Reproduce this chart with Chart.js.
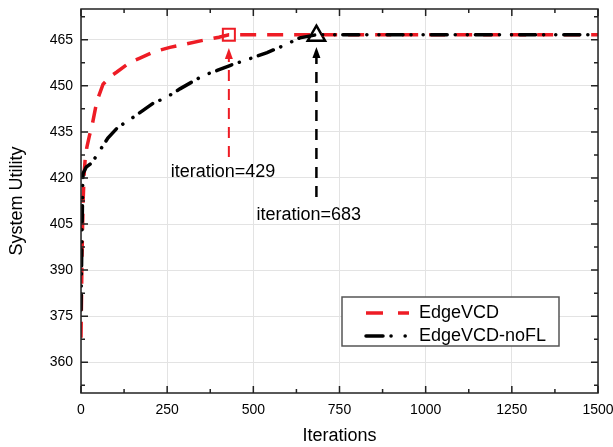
<!DOCTYPE html>
<html>
<head>
<meta charset="utf-8">
<script src="https://cdn.jsdelivr.net/npm/chart.js@4"></script>
<style>
  html, body { margin: 0; padding: 0; background: #fff; }
  canvas { display: block; }
</style>
</head>
<body>
<canvas id="chart" width="613" height="447"></canvas>
<script>
// data
const redIters  = [0, 3, 6, 9, 12, 17, 25, 32, 46, 64, 85, 104, 140, 171, 210, 258, 300, 354, 400, 429, 1500];
const redValues = [368, 395, 412, 421, 426, 430, 434, 437, 445, 450.5, 453, 454.5, 457.5, 459, 461, 462.5, 463.5, 464.8, 465.8, 466.6, 466.6];

const blackIters  = [0, 2, 4, 5, 6, 15, 32, 55, 78, 107, 142, 209, 249, 287, 354, 395, 432, 499, 540, 586, 635, 683, 1500];
const blackValues = [377, 395, 410, 418, 421.5, 423.5, 425, 429, 433, 436.5, 439, 444.3, 446.3, 449, 453.3, 455, 456.6, 459.2, 460.8, 463, 465.6, 466.6, 466.6];

const seriesNames = ['EdgeVCD', 'EdgeVCD-noFL'];
const yTicks = [360, 375, 390, 405, 420, 435, 450, 465];
const xTicks = [0, 250, 500, 750, 1000, 1250, 1500];

// converged points marked on the curves
const redMark = { x: 429, y: 466.6 };
const blackMark = { x: 683, y: 466.3 };

// annotations: arrow tail / tip and label position, in data units
const notes = [
    { text: 'iteration=429', color: '#ee1c25', width: 2, x: 429, from: 426.8, to: 462.3, labelX: 412, labelY: 421.9 },
    { text: 'iteration=683', color: '#000000', width: 2.5, x: 683, from: 413.8, to: 462.6, labelX: 661, labelY: 407.9 }
];

const RED = '#ee1c25';
const FONT = "'Liberation Sans', Arial, sans-serif";

function fitScale(s, key, size) {
    s[key] = size;
    s.paddingLeft = 0; s.paddingRight = 0; s.paddingTop = 0; s.paddingBottom = 0;
}

const extrasPlugin = {
    id: 'extras',
    afterDraw(chart) {
        const ctx = chart.ctx;
        const a = chart.chartArea;
        const xs = chart.scales.x, ys = chart.scales.y;

        // frame
        ctx.save();
        ctx.strokeStyle = '#222';
        ctx.lineWidth = 1.5;
        ctx.setLineDash([]);
        ctx.strokeRect(a.left, a.top, a.right - a.left, a.bottom - a.top);

        // inward ticks, major + minor, on all four sides
        ctx.beginPath();
        for (let v = 0; v <= 1500; v += 125) {
            const px = xs.getPixelForValue(v);
            const len = (v % 250 === 0) ? 7 : 4;
            ctx.moveTo(px, a.bottom); ctx.lineTo(px, a.bottom - len);
            ctx.moveTo(px, a.top); ctx.lineTo(px, a.top + len);
        }
        for (let v = 352.5; v <= 475; v += 7.5) {
            const py = ys.getPixelForValue(v);
            const len = ((v - 360) % 15 === 0) ? 7 : 4;
            ctx.moveTo(a.left, py); ctx.lineTo(a.left + len, py);
            ctx.moveTo(a.right, py); ctx.lineTo(a.right - len, py);
        }
        ctx.stroke();

        // dashed arrows and labels
        notes.forEach(n => {
            const px = xs.getPixelForValue(n.x);
            const y0 = ys.getPixelForValue(n.from);
            const y1 = ys.getPixelForValue(n.to);
            ctx.strokeStyle = n.color;
            ctx.fillStyle = n.color;
            ctx.lineWidth = n.width;
            ctx.setLineDash([11, 8]);
            ctx.beginPath();
            ctx.moveTo(px, y0);
            ctx.lineTo(px, y1 + 10);
            ctx.stroke();
            ctx.setLineDash([]);
            ctx.beginPath();
            ctx.moveTo(px, y1);
            ctx.lineTo(px - 4, y1 + 11);
            ctx.lineTo(px + 4, y1 + 11);
            ctx.closePath();
            ctx.fill();

            ctx.fillStyle = '#000';
            ctx.font = '18px ' + FONT;
            ctx.textAlign = 'center';
            ctx.textBaseline = 'middle';
            ctx.fillText(n.text, xs.getPixelForValue(n.labelX), ys.getPixelForValue(n.labelY));
        });

        // legend box
        const lx = 342, ly = 297, lw = 217, lh = 49;
        ctx.fillStyle = '#fff';
        ctx.fillRect(lx, ly, lw, lh);
        ctx.strokeStyle = '#555';
        ctx.lineWidth = 1.5;
        ctx.strokeRect(lx, ly, lw, lh);

        const rows = [
            { name: seriesNames[0], color: RED, dash: [17, 15], cap: 'butt', y: 313 },
            { name: seriesNames[1], color: '#000', dash: [17, 8, 0.1, 14, 0.1, 8], cap: 'round', y: 336 }
        ];
        rows.forEach(r => {
            ctx.strokeStyle = r.color;
            ctx.lineWidth = 3.5;
            ctx.lineCap = r.cap;
            ctx.setLineDash(r.dash);
            ctx.beginPath();
            ctx.moveTo(366, r.y);
            ctx.lineTo(409, r.y);
            ctx.stroke();
            ctx.setLineDash([]);
            ctx.lineCap = 'butt';
            ctx.fillStyle = '#000';
            ctx.font = '18px ' + FONT;
            ctx.textAlign = 'left';
            ctx.textBaseline = 'middle';
            ctx.fillText(r.name, 419, r.y);
        });
        ctx.restore();
    }
};

new Chart(document.getElementById('chart'), {
    type: 'line',
    data: {
        datasets: [
            {
                label: seriesNames[1],
                data: blackIters.map((x, i) => ({ x: x, y: blackValues[i] })),
                borderColor: '#000',
                borderWidth: 3.5,
                borderDash: [16, 8, 0.1, 12, 0.1, 8],
                borderCapStyle: 'round',
                pointRadius: 0,
                tension: 0
            },
            {
                label: seriesNames[0],
                data: redIters.map((x, i) => ({ x: x, y: redValues[i] })),
                borderColor: RED,
                borderWidth: 3.5,
                borderDash: [16, 11],
                pointRadius: 0,
                tension: 0
            },
            {
                label: 'mark1',
                data: [redMark],
                showLine: false,
                pointStyle: 'rect',
                pointRadius: 8.5,
                pointBorderWidth: 2,
                pointBorderColor: RED,
                pointBackgroundColor: 'rgba(255,255,255,0)'
            },
            {
                label: 'mark2',
                data: [blackMark],
                showLine: false,
                pointStyle: 'triangle',
                pointRadius: 10,
                pointBorderWidth: 2.5,
                pointBorderColor: '#000',
                pointBackgroundColor: 'rgba(255,255,255,0)'
            }
        ]
    },
    options: {
        responsive: false,
        animation: false,
        devicePixelRatio: 1,
        layout: { autoPadding: false, padding: { top: 9, right: 15, left: 0, bottom: 0 } },
        plugins: {
            legend: { display: false },
            tooltip: { enabled: false }
        },
        scales: {
            x: {
                type: 'linear',
                min: 0,
                max: 1500,
                afterBuildTicks: s => { s.ticks = xTicks.map(v => ({ value: v })); },
                afterFit: s => fitScale(s, 'height', 54),
                ticks: { color: '#000', font: { family: FONT, size: 14 }, padding: 9, maxRotation: 0, callback: v => String(v) },
                grid: { color: '#e3e3e3', drawTicks: false },
                border: { display: false },
                title: { display: true, text: 'Iterations', color: '#000', font: { family: FONT, size: 18 }, padding: 0 }
            },
            y: {
                type: 'linear',
                min: 350,
                max: 475,
                afterBuildTicks: s => { s.ticks = yTicks.map(v => ({ value: v })); },
                afterFit: s => fitScale(s, 'width', 81),
                ticks: { color: '#000', font: { family: FONT, size: 14 }, padding: 8, callback: v => String(v) },
                grid: { color: '#e3e3e3', drawTicks: false },
                border: { display: false },
                title: { display: true, text: 'System Utility', color: '#000', font: { family: FONT, size: 18 }, padding: { top: 6, bottom: 0 } }
            }
        }
    },
    plugins: [extrasPlugin]
});
</script>
</body>
</html>
